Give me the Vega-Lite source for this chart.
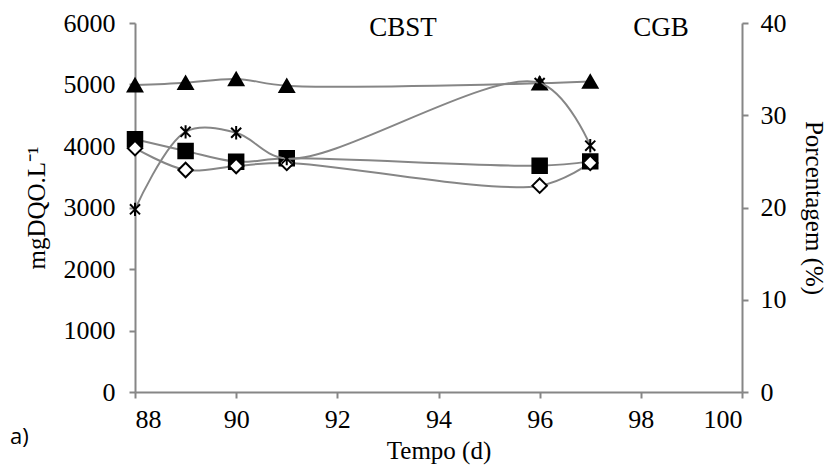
{
  "$schema": "https://vega.github.io/schema/vega-lite/v6.json",
  "width": 607,
  "height": 369,
  "autosize": "none",
  "padding": {"left": 135, "top": 23, "right": 97, "bottom": 76},
  "background": "white",
  "config": {
    "view": {"stroke": null},
    "font": "Liberation Serif",
    "axis": {
      "domainColor": "#868686",
      "domainWidth": 2,
      "tickColor": "#868686",
      "tickWidth": 2,
      "tickSize": 6,
      "grid": false,
      "labelColor": "black",
      "labelFont": "Liberation Serif",
      "labelFontSize": 26,
      "titleFont": "Liberation Serif",
      "titleFontSize": 25,
      "titleFontWeight": "normal",
      "titleColor": "black"
    }
  },
  "title": {"text": "a)", "orient": "bottom", "anchor": "start", "frame": "group", "font": "Open Sans", "fontSize": 22, "fontWeight": "normal", "color": "black", "dx": -125, "dy": -40},
  "datasets": {
    "dqo": [
      {"dia": 88, "serie": "tri", "valor": 4990},
      {"dia": 89, "serie": "tri", "valor": 5030},
      {"dia": 90, "serie": "tri", "valor": 5090},
      {"dia": 91, "serie": "tri", "valor": 4980},
      {"dia": 96, "serie": "tri", "valor": 5020},
      {"dia": 97, "serie": "tri", "valor": 5050},
      {"dia": 88, "serie": "sq", "valor": 4110},
      {"dia": 89, "serie": "sq", "valor": 3920},
      {"dia": 90, "serie": "sq", "valor": 3745},
      {"dia": 91, "serie": "sq", "valor": 3800},
      {"dia": 96, "serie": "sq", "valor": 3680},
      {"dia": 97, "serie": "sq", "valor": 3750},
      {"dia": 88, "serie": "dia", "valor": 3965},
      {"dia": 89, "serie": "dia", "valor": 3610},
      {"dia": 90, "serie": "dia", "valor": 3675},
      {"dia": 91, "serie": "dia", "valor": 3725},
      {"dia": 96, "serie": "dia", "valor": 3355},
      {"dia": 97, "serie": "dia", "valor": 3725}
    ],
    "pct": [
      {"dia": 88, "pct": 19.8},
      {"dia": 89, "pct": 28.2},
      {"dia": 90, "pct": 28.1},
      {"dia": 91, "pct": 25.3},
      {"dia": 96, "pct": 33.5},
      {"dia": 97, "pct": 26.7}
    ],
    "zonas": [
      {"dia": 93.3, "valor": 5920, "t": "CBST"},
      {"dia": 98.4, "valor": 5920, "t": "CGB"}
    ],
    "divisa": [{"dia": 97}]
  },
  "layer": [
    {
      "data": {"name": "dqo"},
      "encoding": {
        "x": {"field": "dia", "type": "quantitative", "scale": {"domain": [88, 100]},
              "axis": {"values": [88, 90, 92, 94, 96, 98, 100], "format": "d", "labelFont": "Liberation Serif", "labelFontSize": 26, "title": "Tempo (d)", "titleColor": "black", "labelPadding": 8, "titlePadding": 6}},
        "y": {"field": "valor", "type": "quantitative", "scale": {"domain": [0, 6000]},
              "axis": {"values": [0, 1000, 2000, 3000, 4000, 5000, 6000], "format": "d", "labelFont": "Liberation Serif", "labelFontSize": 26, "title": "mgDQO.L⁻¹", "titleColor": "black", "labelPadding": 14, "titlePadding": 14}}
      },
      "layer": [
        {"data": {"name": "divisa"}, "mark": {"type": "rule", "color": "#868686", "strokeWidth": 2, "strokeDash": [6, 4]},
         "encoding": {"x": {"field": "dia", "type": "quantitative"}, "y": {"datum": 0}, "y2": {"datum": 5930}}},
        {"mark": {"type": "line", "interpolate": "catmull-rom", "color": "#868686", "strokeWidth": 2},
         "encoding": {"detail": {"field": "serie"}}},
        {"mark": {"type": "point", "opacity": 1, "strokeWidth": 2},
         "encoding": {
           "shape": {"field": "serie", "type": "nominal", "scale": {"domain": ["tri", "sq", "dia"], "range": ["triangle-up", "square", "diamond"]}, "legend": null},
           "fill": {"field": "serie", "type": "nominal", "scale": {"domain": ["tri", "sq", "dia"], "range": ["black", "black", "white"]}, "legend": null},
           "stroke": {"value": "black"},
           "size": {"field": "serie", "type": "nominal", "scale": {"domain": ["tri", "sq", "dia"], "range": [210, 210, 340]}, "legend": null}
         }},
        {"data": {"name": "zonas"}, "mark": {"type": "text", "fontSize": 27, "font": "Liberation Serif", "color": "black", "baseline": "middle", "align": "center"},
         "encoding": {"text": {"field": "t"}}}
      ]
    },
    {
      "data": {"name": "pct"},
      "encoding": {
        "x": {"field": "dia", "type": "quantitative", "scale": {"domain": [88, 100]}},
        "y": {"field": "pct", "type": "quantitative", "scale": {"domain": [0, 40]},
              "axis": {"orient": "right", "values": [0, 10, 20, 30, 40], "format": "d", "labelFont": "Liberation Serif", "labelFontSize": 26, "title": "Porcentagem (%)", "titleColor": "black", "labelPadding": 12, "titlePadding": 14}}
      },
      "layer": [
        {"mark": {"type": "line", "interpolate": "catmull-rom", "color": "#868686", "strokeWidth": 2}},
        {"mark": {"type": "point", "shape": "M-0.75,-0.75L0.75,0.75M-0.75,0.75L0.75,-0.75M0,-1L0,1", "filled": false, "color": "black", "strokeWidth": 2, "size": 180, "opacity": 1}}
      ]
    }
  ],
  "resolve": {"scale": {"y": "independent"}}
}
